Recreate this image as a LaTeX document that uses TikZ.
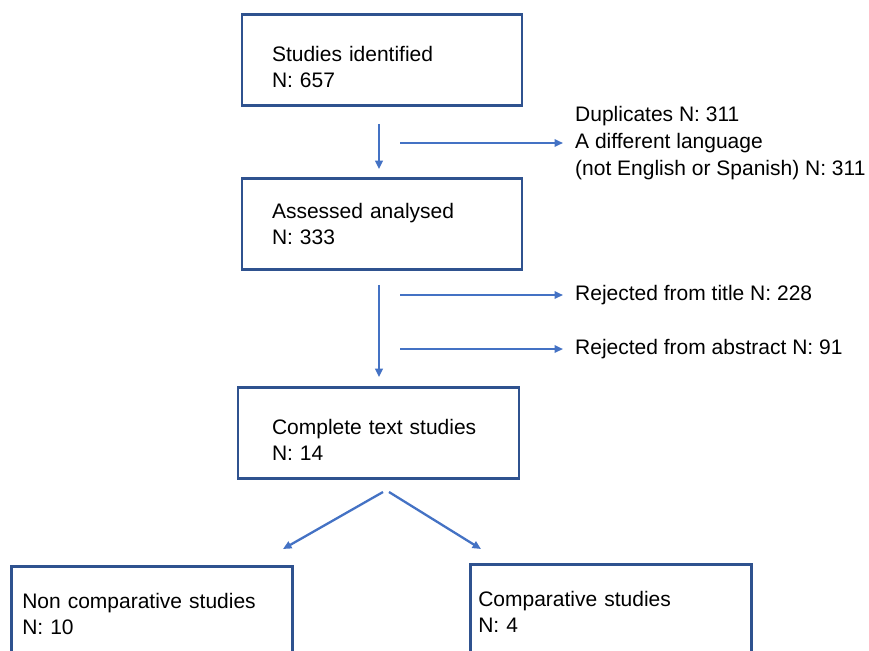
\documentclass[tikz,border=0pt]{standalone}
\usepackage{fontspec}
\setmainfont{Liberation Sans}
\usetikzlibrary{positioning, arrows.meta}
\definecolor{boxblue}{HTML}{2F528F}
\definecolor{arrowblue}{HTML}{4472C4}
\newcommand{\boxstrut}{\rule{0pt}{29pt}}
\tikzset{
  stage/.style={draw=boxblue, line width=2.6pt, align=left, text width=220pt,
                minimum width=280pt, minimum height=91pt, inner xsep=30pt,
                font=\fontsize{21}{26}\selectfont},
  leaf/.style={draw=boxblue, line width=2.6pt, align=left,
               minimum width=281pt, minimum height=96pt,
               font=\fontsize{21}{26}\selectfont},
  note/.style={align=left, inner sep=5pt, font=\fontsize{21}{27}\selectfont},
  flow/.style={-{Triangle[length=8.5pt, width=7.5pt]}, line width=2.3pt, draw=arrowblue},
}
\begin{document}
\begin{tikzpicture}[x=1pt, y=-1pt]
  \useasboundingbox (0,0) rectangle (869,650);
  \clip (0,0) rectangle (869,650);
  % main column
  \node[stage] (ident) at (382,60) {\boxstrut Studies identified\\N: 657};
  \node[stage] (assess) at (382,224) {Assessed analysed\\N: 333};
  \node[stage, text width=213pt, inner xsep=34pt] (full) at (378.5,433)
        {\boxstrut Complete text studies\\N: 14};
  % outcome boxes
  \node[leaf, text width=259pt, inner xsep=11pt, anchor=north west] (noncomp) at (10,565)
        {Non comparative studies\\N: 10};
  \node[leaf, text width=265pt, inner xsep=8pt, anchor=north west] (comp) at (469,563)
        {Comparative studies\\N: 4};
  % exclusions
  \node[note, anchor=west] (dup) at (570,143)
        {Duplicates N: 311\\A different language\\(not English or Spanish) N: 311};
  \node[note, anchor=west] (title) at (570,295) {Rejected from title N: 228};
  \node[note, anchor=west] (abstr) at (570,349) {Rejected from abstract N: 91};
  \coordinate (dupsrc) at (400,143);
  \coordinate (titlesrc) at (400,295);
  \coordinate (abstrsrc) at (400,349);
  \coordinate (forkL) at (383,492);
  \coordinate (forkR) at (389,492);
  \coordinate (endL) at (283,549);
  \coordinate (endR) at (481,549);
  % arrows
  \draw[flow, shorten <=17pt, shorten >=8pt] ([xshift=-3pt]ident.south) -- ([xshift=-3pt]assess.north);
  \draw[flow, shorten <=14pt, shorten >=9pt] ([xshift=-3pt]assess.south) -- ([xshift=0.5pt]full.north);
  \draw[flow, shorten >=7pt] (dupsrc) -- (dup.west);
  \draw[flow, shorten >=7pt] (titlesrc) -- (title.west);
  \draw[flow, shorten >=7pt] (abstrsrc) -- (abstr.west);
  \draw[flow] (forkL) -- (endL);
  \draw[flow] (forkR) -- (endR);
\end{tikzpicture}
\end{document}
